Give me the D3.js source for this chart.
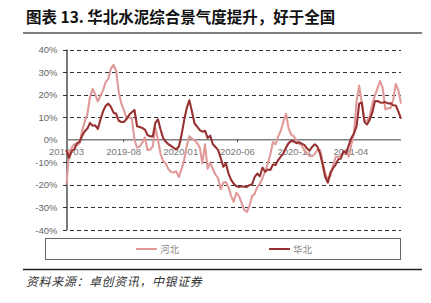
<!DOCTYPE html>
<html><head><meta charset="utf-8">
<script src="https://cdn.jsdelivr.net/npm/d3@7"></script>
<style>body{margin:0;background:#fff}</style>
</head><body>
<svg id="c" width="431" height="303"></svg>
<script>
// ---- data (weekly, starting 2019-03-01) ----
const startDate = [2019, 2, 1];
const hebei = [-20,-6,-3.5,-2,-2.5,-1.5,4,8,11.5,19,22.6,20,17,19.5,22,25.6,27,31.5,33.2,30.5,
  21,16,13,9.5,10,9.5,0,-3.5,-3,-1.2,1,-4.6,-4.3,-3,5.4,0,-6.5,-9.5,-10.5,-13,
  -14.3,-14.5,-14,-16.5,-13,-9.2,-3,1.5,0.5,-0.2,-1.5,-3.5,-10.5,-2,-12.8,-10,-13,-15.4,-17,-22,
  -19,-18.7,-21,-25,-27.5,-23.5,-25,-28,-31,-32,-29.5,-25,-24,-21,-19.5,-17,-14,-10.7,-6.5,-1,
  -2,1.5,4,8,11.5,5,2.2,1.5,-0.5,-1.8,-2.5,-4.5,-6,-7.2,-7.3,-6.3,-4.4,-4.5,-9.5,-15,
  -17.5,-16,-11.5,-7.6,-7.6,-7,-5.5,-5,-7.5,-2,3,17,24,16,8.5,8.5,10.3,15.8,19.5,22.8,
  26,23,13.5,14,14,17.5,24.7,22,16];
const huabei = [-4.6,-8,-5,-4.2,-1.5,-1,1.8,3.8,5,7.5,6.2,6.4,4.8,9,12.6,15,16,14.6,12,11.5,
  8.4,7.9,7.9,9.2,11.1,12.2,13.2,6,5.6,5.2,4.5,2.1,1.5,1.5,7.5,9,4.5,0.7,-0.9,-2,
  -2.7,-3.6,-4.3,-3,2,8.5,14,17.5,12.5,7.2,5.8,4.3,3.6,4,0.8,1.8,-2,-3.2,-4.5,-8,
  -12,-10.5,-15,-17.8,-19.5,-20.6,-20.9,-20.6,-20.8,-20.9,-20.1,-19.8,-16.5,-15,-16.2,-12.3,-14.2,-13.2,-13.4,-11,
  -11.2,-9,-7.5,-6,-3.5,-1.5,-0.5,-0.8,-1.5,-1.1,-1.7,-2.3,-3.8,-4.8,-3.2,-2,-3,-6,-11,-16.5,
  -19,-14.5,-12.6,-11,-8.7,-8.3,-5,-6,-2.5,0.8,2.7,6,16,16.5,8,6.8,8.8,12,17,17.2,
  16.5,16.4,16.7,16.1,16.2,15.3,15.2,12.5,9.4];
const yTicks = [-40,-30,-20,-10,0,10,20,30,40];
const xTickLabels = ["2019-03","2019-08","2020-01","2020-06","2020-11","2021-04"];
const seriesNames = ["河北","华北"];
const colors = ["#e09a9a","#983232"];

const svg = d3.select("#c");
const dateOf = i => new Date(startDate[0], startDate[1], startDate[2] + 7*i);
const x = d3.scaleTime().domain([new Date(2019,2,1), new Date(2021,7,13)]).range([66.5, 401]);
const y = d3.scaleLinear().domain([-40,40]).range([230, 49.5]);
const parse = d3.timeParse("%Y-%m");

// title
svg.append("text").attr("x",26).attr("y",23)
  .attr("font-family","'Noto Sans CJK SC'").attr("font-weight","bold").attr("font-size",15.5)
  .attr("fill","#111").text("图表 13. 华北水泥综合景气度提升，好于全国");
svg.append("line").attr("x1",23).attr("x2",422).attr("y1",33).attr("y2",33)
  .attr("stroke","#555").attr("stroke-width",1.5);

// grid
svg.append("g").selectAll("line").data(yTicks.filter(d=>d!==0)).join("line")
  .attr("x1",63).attr("x2",401).attr("y1",d=>Math.round(y(d))+0.5).attr("y2",d=>Math.round(y(d))+0.5)
  .attr("stroke","#333").attr("stroke-width",1).attr("stroke-dasharray","4,3");

// y axis
svg.append("line").attr("x1",67).attr("x2",67).attr("y1",y(40)).attr("y2",y(-40))
  .attr("stroke","#222").attr("stroke-width",1.2);
svg.append("g").selectAll("text").data(yTicks).join("text")
  .attr("x",57.5).attr("y",d=>y(d)+3.5).attr("text-anchor","end")
  .attr("font-family","'Liberation Sans', Arial, sans-serif").attr("font-size",9.5)
  .attr("fill","#666").text(d=>d+"%");

// x labels (under lines)
svg.append("g").selectAll("text").data(xTickLabels).join("text")
  .attr("x",d=>x(parse(d))).attr("y",155).attr("text-anchor","middle")
  .attr("font-family","'Liberation Sans', Arial, sans-serif").attr("font-size",9.5)
  .attr("fill","#777").text(d=>d);

// zero axis
svg.append("line").attr("x1",67).attr("x2",401).attr("y1",y(0)).attr("y2",y(0))
  .attr("stroke","#808080").attr("stroke-width",1.5);
svg.append("g").selectAll("line").data(xTickLabels.slice(1)).join("line")
  .attr("x1",d=>x(parse(d))).attr("x2",d=>x(parse(d))).attr("y1",y(0)).attr("y2",y(0)+2.5)
  .attr("stroke","#555").attr("stroke-width",1);

// lines
const line = d3.line().x((d,i)=>x(dateOf(i))).y(d=>y(d)).curve(d3.curveLinear);
[hebei, huabei].forEach((s,k)=>{
  svg.append("path").attr("d",line(s)).attr("fill","none")
    .attr("stroke",colors[k]).attr("stroke-width",2.1).attr("stroke-linejoin","round");
});

// legend
svg.append("rect").attr("x",45.5).attr("y",238.5).attr("width",355).attr("height",21)
  .attr("fill","#fff").attr("stroke","#666").attr("stroke-width",1);
const lx = [136, 269];
seriesNames.forEach((n,k)=>{
  svg.append("line").attr("x1",lx[k]).attr("x2",lx[k]+21).attr("y1",249).attr("y2",249)
    .attr("stroke",colors[k]).attr("stroke-width",2);
  svg.append("text").attr("x",lx[k]+24).attr("y",252.5)
    .attr("font-family","'Noto Sans CJK SC'").attr("font-size",9.5).attr("fill","#888").text(n);
});

// source
svg.append("line").attr("x1",23).attr("x2",422).attr("y1",269.5).attr("y2",269.5)
  .attr("stroke","#222").attr("stroke-width",1.5);
svg.append("text").attr("x",26).attr("y",286)
  .attr("font-family","'Noto Sans CJK SC'").attr("font-style","italic").attr("font-size",12)
  .attr("letter-spacing",0.6).attr("fill","#333").text("资料来源：卓创资讯，中银证券");
</script>
</body></html>
